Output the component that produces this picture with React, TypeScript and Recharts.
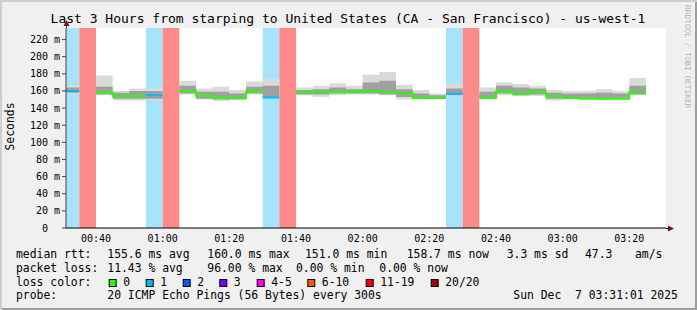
import React from 'react';
import { ComposedChart, Area, Line, XAxis, YAxis, CartesianGrid } from 'recharts';

// 5-minute slots, minutes after 00:00
const slotStart = [30, 35, 40, 45, 50, 55, 60, 65, 70, 75, 80, 85, 90, 95, 100, 105, 110, 115, 120, 125, 130, 135, 140, 145, 150, 155, 160, 165, 170, 175, 180, 185, 190, 195, 200];
// lost pings out of 20 per slot
const lossCount = [1, 19, 0, 0, 0, 1, 19, 0, 0, 0, 0, 0, 1, 19, 0, 0, 0, 0, 0, 0, 0, 0, 0, 1, 19, 0, 0, 0, 0, 0, 0, 0, 0, 0, 0];
// median rtt (ms)
const median = [160.0, null, 158.3, 154.0, 154.0, 155.0, null, 160.0, 154.5, 152.0, 152.0, 159.5, 152.5, null, 158.4, 159.0, 159.0, 159.0, 160.0, 158.8, 157.6, 151.8, 151.8, 156.8, null, 151.8, 159.5, 156.8, 158.8, 153.7, 151.8, 151.0, 151.0, 151.0, 158.7];
// smoke, outer band
const smokeHigh = [167, null, 178, 160, 163, 163, null, 172, 163, 165, 161, 171, 174, null, 164, 166, 169, 166, 179, 182, 167, 161, 157, 169, null, 164, 170, 168, 166, 161, 160, 160, 162, 160, 175];
const smokeLow = [157, null, 155, 149, 149, 149, null, 156, 150, 148, 150, 156, 152, null, 155, 153, 155, 156, 156, 155, 150, 150, 151, 154, null, 150, 155, 154, 154, 149, 150, 151, 150, 151, 155];
// smoke, inner band
const midHigh = [164, null, 165, 158, 160, 160, null, 166, 159, 159, 157, 165, 166, null, 161, 162, 164, 162, 170, 172, 162, 157, 155, 163, null, 159, 166, 164, 163, 158, 157, 157, 158, 157, 166];
const midLow = [158, null, 156, 151, 151, 151, null, 157, 151, 150, 150, 157, 153, null, 156, 156, 157, 157, 157, 156, 153, 151, 151, 155, null, 151, 157, 155, 156, 151, 151, 152, 151, 152, 156];

const yTicks = [0, 20, 40, 60, 80, 100, 120, 140, 160, 180, 200, 220];
const xTicks = [40, 60, 80, 100, 120, 140, 160, 180, 200];
const xTickLabels = ['00:40', '01:00', '01:20', '01:40', '02:00', '02:20', '02:40', '03:00', '03:20'];

const lossLegend = [
  { label: '0', color: '#26ff00' },
  { label: '1', color: '#00b8ff' },
  { label: '2', color: '#0059ff' },
  { label: '3', color: '#7e00ff' },
  { label: '4-5', color: '#ff00ff' },
  { label: '6-10', color: '#ff5500' },
  { label: '11-19', color: '#ff0000' },
  { label: '20/20', color: '#a10000' },
];

const T0 = 31;
const T1 = 211;
const Y_TOP = 233.5;
const MONO = '"DejaVu Sans Mono", monospace';

const rows: any[] = [];
slotStart.forEach((s, i) => {
  const has = median[i] != null;
  const lc = lossCount[i];
  for (const t of [Math.max(s, T0), s + 5]) {
    rows.push({
      t,
      smoke: has ? [smokeLow[i], smokeHigh[i]] : null,
      mid: has ? [midLow[i], midHigh[i]] : null,
      medGreen: has && lc === 0 ? median[i] : null,
      medBlue: has && lc === 1 ? median[i] : null,
      lossBlue: lc === 1 ? [0, Y_TOP] : null,
      lossRed: lc >= 11 ? [0, Y_TOP] : null,
    });
  }
});

const minorX: number[] = [];
for (let t = 35; t <= 210; t += 5) if (t % 20 !== 0) minorX.push(t);
const minorY: number[] = [];
for (let v = 10; v <= 230; v += 20) minorY.push(v);
const majorY = yTicks.filter(v => v > 0);

const toX = (offset: any, t: number) => offset.left + ((t - T0) / (T1 - T0)) * offset.width;
const toY = (offset: any, v: number) => offset.top + (1 - v / Y_TOP) * offset.height;

const YTick = (props: any) => {
  const { x, y, payload } = props;
  const v = payload.value;
  return (
    <text x={v === 0 ? x - 12 : x} y={y} dy={3.5} textAnchor="end" fontFamily={MONO} fontSize={10} fill="#000">
      {v === 0 ? '0' : `${v} m`}
    </text>
  );
};

export default function App() {
  const legendTxt = (x: number, y: number, s: string, key?: string) => (
    <text key={key} x={x} y={y} fontFamily={MONO} fontSize={11.4} fill="#000" style={{ whiteSpace: 'pre' }}>{s}</text>
  );
  return (
    <div style={{ position: 'absolute', left: 0, top: 0, width: 697, height: 310, background: '#f0f0f0', boxShadow: 'inset 2px 2px 0 #cfcfcf, inset -2px -2px 0 #9e9e9e' }}>
      <div style={{ position: 'absolute', left: 0, top: 0 }}>
        <ComposedChart width={697} height={310} data={rows} margin={{ top: 28, right: 31, bottom: 62, left: 0 }}>
          <rect x={66} y={28} width={600} height={200} fill="#ffffff" />
          <CartesianGrid
            stroke="#c4c4c4"
            strokeDasharray="1 1"
            verticalCoordinatesGenerator={({ offset }: any) => minorX.map(t => toX(offset, t))}
            horizontalCoordinatesGenerator={({ offset }: any) => minorY.map(v => toY(offset, v))}
          />
          <CartesianGrid
            stroke="#ff5050"
            strokeOpacity={0.6}
            strokeDasharray="1 1"
            verticalCoordinatesGenerator={({ offset }: any) => xTicks.map(t => toX(offset, t))}
            horizontalCoordinatesGenerator={({ offset }: any) => majorY.map(v => toY(offset, v))}
          />
          <XAxis
            dataKey="t"
            type="number"
            domain={[T0, T1]}
            allowDataOverflow
            ticks={xTicks}
            interval={0}
            tickFormatter={(v: number) => xTickLabels[xTicks.indexOf(v)]}
            tick={{ fontFamily: MONO, fontSize: 10, fill: '#000' }}
            tickLine={false}
            tickSize={3}
            tickMargin={3.5}
            axisLine={{ stroke: '#000' }}
            height={20}
          />
          <YAxis
            type="number"
            domain={[0, Y_TOP]}
            allowDataOverflow
            ticks={yTicks}
            interval={0}
            width={66}
            tick={<YTick />}
            tickSize={4}
            tickMargin={2}
            tickLine={{ stroke: '#404040' }}
            axisLine={{ stroke: '#404040' }}
          />
          <Area dataKey="lossBlue" type="linear" stroke="none" fill="#a6e4fc" fillOpacity={1} isAnimationActive={false} dot={false} activeDot={false} />
          <Area dataKey="lossRed" type="linear" stroke="none" fill="#ff8a8a" fillOpacity={1} isAnimationActive={false} dot={false} activeDot={false} />
          <Area dataKey="smoke" type="linear" stroke="none" fill="#dadada" fillOpacity={1} isAnimationActive={false} dot={false} activeDot={false} />
          <Area dataKey="mid" type="linear" stroke="none" fill="#a0a0a0" fillOpacity={1} isAnimationActive={false} dot={false} activeDot={false} />
          <Line dataKey="medGreen" type="linear" stroke="#26ff00" strokeWidth={2} dot={false} activeDot={false} isAnimationActive={false} />
          <Line dataKey="medBlue" type="linear" stroke="#00b8ff" strokeWidth={2} dot={false} activeDot={false} isAnimationActive={false} />
        </ComposedChart>
      </div>
      <svg width={697} height={310} style={{ position: 'absolute', left: 0, top: 0, pointerEvents: 'none' }}>
        <text x={348} y={23} textAnchor="middle" fontFamily={MONO} fontSize={13} fill="#000">
          Last 3 Hours from starping to United States (CA - San Francisco) - us-west-1
        </text>
        <text x={14} y={126.5} textAnchor="middle" transform="rotate(-90 14 126.5)" fontFamily={MONO} fontSize={11.4} fill="#000">Seconds</text>
        <text x={685} y={5} transform="rotate(90 685 5)" fontFamily={MONO} fontSize={7.8} fill="#b4b4b4">RRDTOOL / TOBI OETIKER</text>
        {/* axis arrows */}
        <line x1={66.5} y1={28} x2={66.5} y2={24} stroke="#404040" />
        <polygon points="63.5,26 69.5,26 66.5,20" fill="#7f1010" />
        <line x1={666} y1={228.5} x2={670} y2={228.5} stroke="#000" />
        <polygon points="668,225.5 668,231.5 674,228.5" fill="#7f1010" />
        {legendTxt(16, 258, 'median rtt:')}
        {legendTxt(107.3, 258, '155.6 ms avg')}
        {legendTxt(207.3, 258, '160.0 ms max')}
        {legendTxt(305, 258, '151.0 ms min')}
        {legendTxt(406.7, 258, '158.7 ms now')}
        {legendTxt(506.7, 258, '3.3 ms sd')}
        {legendTxt(585, 258, '47.3')}
        {legendTxt(635, 258, 'am/s')}
        {legendTxt(16, 272, 'packet loss:')}
        {legendTxt(107.3, 272, '11.43 % avg')}
        {legendTxt(207.3, 272, '96.00 % max')}
        {legendTxt(296, 272, '0.00 % min')}
        {legendTxt(379.3, 272, '0.00 % now')}
        {legendTxt(16, 286, 'loss color:')}
        {lossLegend.map((l, i) => {
          const bx = [108.7, 145.7, 182.7, 219.3, 256.7, 307.3, 365.7, 430.7][i];
          return (
            <g key={l.label}>
              <rect x={bx + 0.5} y={279.5} width={7} height={7} fill={l.color} stroke="#000" />
              {legendTxt(bx + 14.5, 286, l.label)}
            </g>
          );
        })}
        {legendTxt(16, 299, 'probe:')}
        {legendTxt(107.3, 299, '20 ICMP Echo Pings (56 Bytes) every 300s')}
        {legendTxt(513.3, 299, 'Sun Dec  7 03:31:01 2025')}
      </svg>
    </div>
  );
}
